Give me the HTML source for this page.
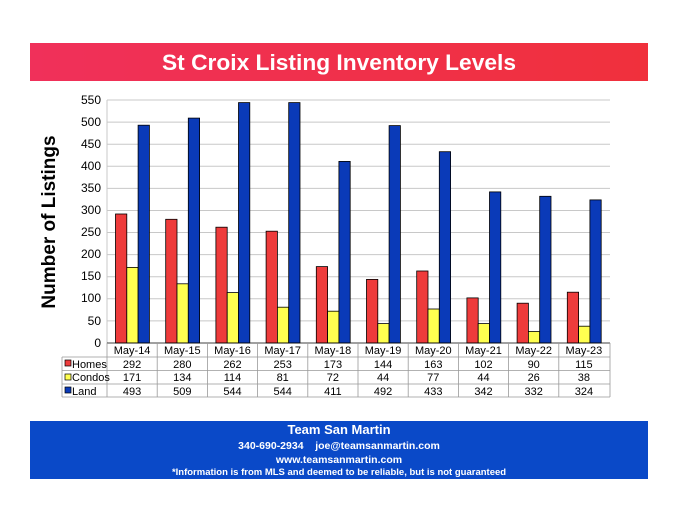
<!DOCTYPE html>
<html><head><meta charset="utf-8"><style>
html,body{margin:0;padding:0;background:#fff;}
svg{display:block;font-family:"Liberation Sans",Arial,sans-serif;}
</style></head><body>
<svg width="678" height="521" viewBox="0 0 678 521" xmlns="http://www.w3.org/2000/svg">
<defs>
<linearGradient id="tg" x1="0" x2="1" y1="0" y2="0">
<stop offset="0" stop-color="#f0305a"/><stop offset="1" stop-color="#f0303c"/>
</linearGradient>
</defs>
<rect x="30" y="43" width="618" height="38" fill="url(#tg)"/>
<text x="339" y="70" text-anchor="middle" font-size="22" font-weight="bold" fill="#fff" textLength="354" lengthAdjust="spacingAndGlyphs">St Croix Listing Inventory Levels</text>

<g stroke="#c8c8c8" stroke-width="1">
<line x1="107" x2="610" y1="100" y2="100"/>
<line x1="107" x2="610" y1="122.1" y2="122.1"/>
<line x1="107" x2="610" y1="144.2" y2="144.2"/>
<line x1="107" x2="610" y1="166.3" y2="166.3"/>
<line x1="107" x2="610" y1="188.4" y2="188.4"/>
<line x1="107" x2="610" y1="210.5" y2="210.5"/>
<line x1="107" x2="610" y1="232.5" y2="232.5"/>
<line x1="107" x2="610" y1="254.6" y2="254.6"/>
<line x1="107" x2="610" y1="276.7" y2="276.7"/>
<line x1="107" x2="610" y1="298.8" y2="298.8"/>
<line x1="107" x2="610" y1="320.9" y2="320.9"/>
<line x1="107" x2="107" y1="100" y2="343"/>
</g>
<g font-size="12" fill="#000" text-anchor="end">
<text x="101" y="104">550</text><text x="101" y="126">500</text><text x="101" y="148">450</text>
<text x="101" y="170">400</text><text x="101" y="192">350</text><text x="101" y="214">300</text>
<text x="101" y="236">250</text><text x="101" y="258">200</text><text x="101" y="280">150</text>
<text x="101" y="302">100</text><text x="101" y="325">50</text><text x="101" y="347">0</text>
</g>
<text transform="translate(55,222) rotate(-90)" text-anchor="middle" font-size="19" font-weight="bold">Number of Listings</text>

<g stroke="#000" stroke-width="0.8">
<g transform="translate(107,0)"><rect x="8.5" y="214" width="11.3" height="129" fill="#ee3b3b"/><rect x="19.8" y="267.4" width="11.3" height="75.6" fill="#ffff50"/><rect x="31.1" y="125.2" width="11.3" height="217.8" fill="#0a3ab8"/></g>
<g transform="translate(157.2,0)"><rect x="8.5" y="219.3" width="11.3" height="123.7" fill="#ee3b3b"/><rect x="19.8" y="283.8" width="11.3" height="59.2" fill="#ffff50"/><rect x="31.1" y="118.1" width="11.3" height="224.9" fill="#0a3ab8"/></g>
<g transform="translate(207.4,0)"><rect x="8.5" y="227.2" width="11.3" height="115.8" fill="#ee3b3b"/><rect x="19.8" y="292.6" width="11.3" height="50.4" fill="#ffff50"/><rect x="31.1" y="102.6" width="11.3" height="240.4" fill="#0a3ab8"/></g>
<g transform="translate(257.6,0)"><rect x="8.5" y="231.2" width="11.3" height="111.8" fill="#ee3b3b"/><rect x="19.8" y="307.2" width="11.3" height="35.8" fill="#ffff50"/><rect x="31.1" y="102.6" width="11.3" height="240.4" fill="#0a3ab8"/></g>
<g transform="translate(307.8,0)"><rect x="8.5" y="266.6" width="11.3" height="76.4" fill="#ee3b3b"/><rect x="19.8" y="311.2" width="11.3" height="31.8" fill="#ffff50"/><rect x="31.1" y="161.4" width="11.3" height="181.6" fill="#0a3ab8"/></g>
<g transform="translate(358,0)"><rect x="8.5" y="279.4" width="11.3" height="63.6" fill="#ee3b3b"/><rect x="19.8" y="323.6" width="11.3" height="19.4" fill="#ffff50"/><rect x="31.1" y="125.6" width="11.3" height="217.4" fill="#0a3ab8"/></g>
<g transform="translate(408.2,0)"><rect x="8.5" y="271" width="11.3" height="72" fill="#ee3b3b"/><rect x="19.8" y="309" width="11.3" height="34" fill="#ffff50"/><rect x="31.1" y="151.7" width="11.3" height="191.3" fill="#0a3ab8"/></g>
<g transform="translate(458.4,0)"><rect x="8.5" y="297.9" width="11.3" height="45.1" fill="#ee3b3b"/><rect x="19.8" y="323.6" width="11.3" height="19.4" fill="#ffff50"/><rect x="31.1" y="191.9" width="11.3" height="151.1" fill="#0a3ab8"/></g>
<g transform="translate(508.6,0)"><rect x="8.5" y="303.2" width="11.3" height="39.8" fill="#ee3b3b"/><rect x="19.8" y="331.5" width="11.3" height="11.5" fill="#ffff50"/><rect x="31.1" y="196.3" width="11.3" height="146.7" fill="#0a3ab8"/></g>
<g transform="translate(558.8,0)"><rect x="8.5" y="292.2" width="11.3" height="50.8" fill="#ee3b3b"/><rect x="19.8" y="326.2" width="11.3" height="16.8" fill="#ffff50"/><rect x="31.1" y="199.9" width="11.3" height="143.1" fill="#0a3ab8"/></g>
</g>

<g stroke="#999" stroke-width="0.8" fill="none">
<line x1="107" x2="610" y1="343" y2="343" stroke="#000"/>
<line x1="62" x2="610" y1="357" y2="357"/>
<line x1="62" x2="610" y1="370.5" y2="370.5"/>
<line x1="62" x2="610" y1="384" y2="384"/>
<line x1="62" x2="610" y1="397" y2="397"/>
<line x1="62" x2="62" y1="357" y2="397"/>
<line x1="107" x2="107" y1="343" y2="397"/>
<line x1="157.2" x2="157.2" y1="343" y2="397"/>
<line x1="207.4" x2="207.4" y1="343" y2="397"/>
<line x1="257.6" x2="257.6" y1="343" y2="397"/>
<line x1="307.8" x2="307.8" y1="343" y2="397"/>
<line x1="358" x2="358" y1="343" y2="397"/>
<line x1="408.2" x2="408.2" y1="343" y2="397"/>
<line x1="458.4" x2="458.4" y1="343" y2="397"/>
<line x1="508.6" x2="508.6" y1="343" y2="397"/>
<line x1="558.8" x2="558.8" y1="343" y2="397"/>
<line x1="610" x2="610" y1="343" y2="397"/>
</g>
<g stroke="#000" stroke-width="0.7">
<rect x="65" y="360" width="6" height="6" fill="#ee3b3b"/>
<rect x="65" y="374" width="6" height="6" fill="#ffff50"/>
<rect x="65" y="387" width="6" height="6" fill="#0a3ab8"/>
</g>
<g font-size="11" fill="#000">
<text x="72" y="368">Homes</text>
<text x="72" y="381">Condos</text>
<text x="72" y="395">Land</text>
</g>
<g font-size="11" fill="#000" text-anchor="middle">
<text x="132.1" y="354">May-14</text><text x="182.3" y="354">May-15</text><text x="232.5" y="354">May-16</text><text x="282.7" y="354">May-17</text><text x="332.9" y="354">May-18</text><text x="383.1" y="354">May-19</text><text x="433.3" y="354">May-20</text><text x="483.5" y="354">May-21</text><text x="533.7" y="354">May-22</text><text x="583.9" y="354">May-23</text>
<text x="132.1" y="368">292</text><text x="182.3" y="368">280</text><text x="232.5" y="368">262</text><text x="282.7" y="368">253</text><text x="332.9" y="368">173</text><text x="383.1" y="368">144</text><text x="433.3" y="368">163</text><text x="483.5" y="368">102</text><text x="533.7" y="368">90</text><text x="583.9" y="368">115</text>
<text x="132.1" y="381">171</text><text x="182.3" y="381">134</text><text x="232.5" y="381">114</text><text x="282.7" y="381">81</text><text x="332.9" y="381">72</text><text x="383.1" y="381">44</text><text x="433.3" y="381">77</text><text x="483.5" y="381">44</text><text x="533.7" y="381">26</text><text x="583.9" y="381">38</text>
<text x="132.1" y="395">493</text><text x="182.3" y="395">509</text><text x="232.5" y="395">544</text><text x="282.7" y="395">544</text><text x="332.9" y="395">411</text><text x="383.1" y="395">492</text><text x="433.3" y="395">433</text><text x="483.5" y="395">342</text><text x="533.7" y="395">332</text><text x="583.9" y="395">324</text>
</g>

<rect x="30" y="421" width="618" height="58" fill="#0a49c8"/>
<g fill="#fff" font-weight="bold" text-anchor="middle">
<text x="339" y="434" font-size="13">Team San Martin</text>
<text x="339" y="449" font-size="10.5">340-690-2934 &#160;&#160; joe@teamsanmartin.com</text>
<text x="339" y="463" font-size="10.5">www.teamsanmartin.com</text>
<text x="339" y="475" font-size="9.5">*Information is from MLS and deemed to be reliable, but is not guaranteed</text>
</g>
</svg>
</body></html>
